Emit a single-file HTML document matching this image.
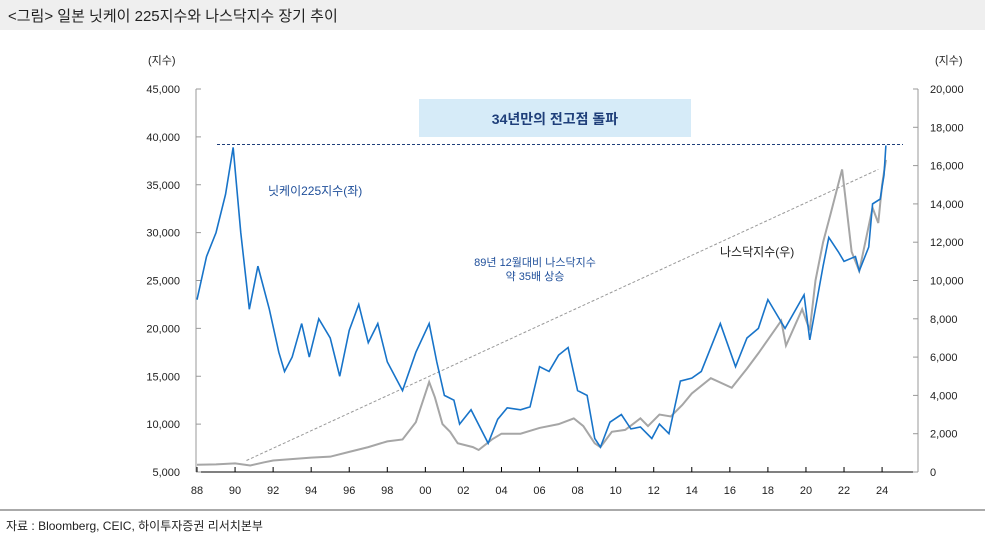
<!DOCTYPE html>
<html><head><meta charset="utf-8"><style>
body{margin:0;width:985px;height:540px;background:#fff;font-family:"Liberation Sans","Noto Sans CJK KR",sans-serif;overflow:hidden}
</style></head><body>
<svg id="c" width="985" height="540" style="position:absolute;left:0;top:0;font-family:'Liberation Sans','Noto Sans CJK KR',sans-serif">
<rect x="0" y="0" width="985" height="30" fill="#efefef"/>
<text x="8" y="21" font-size="15" fill="#222">&lt;그림&gt; 일본 닛케이 225지수와 나스닥지수 장기 추이</text>
<line x1="0" y1="510" x2="985" y2="510" stroke="#555" stroke-width="1"/>
<text x="6" y="530" font-size="12" fill="#222">자료 : Bloomberg, CEIC, 하이투자증권 리서치본부</text>
<text x="148" y="64" font-size="11" fill="#222">(지수)</text>
<text x="935" y="64" font-size="11" fill="#222">(지수)</text>
<rect x="419" y="99" width="272" height="38" fill="#d6ebf8"/>
<text x="555" y="124" font-size="14" font-weight="bold" fill="#1f3f7a" text-anchor="middle">34년만의 전고점 돌파</text>
<text x="268" y="195" font-size="12" fill="#1f4f9a">닛케이225지수(좌)</text>
<text x="535" y="266" font-size="11" fill="#1f4f9a" text-anchor="middle">89년 12월대비 나스닥지수</text>
<text x="535" y="280" font-size="11" fill="#1f4f9a" text-anchor="middle">약 35배 상승</text>
<text x="720" y="256" font-size="12" fill="#222">나스닥지수(우)</text>
<g id="g"></g>
</svg>
<script>
const leftTicks=[5000,10000,15000,20000,25000,30000,35000,40000,45000];
const rightTicks=[0,2000,4000,6000,8000,10000,12000,14000,16000,18000,20000];
const xTickLabels=['88','90','92','94','96','98','00','02','04','06','08','10','12','14','16','18','20','22','24'];
const nikkeiYears=[1988,1988.5,1989,1989.5,1989.9,1990.3,1990.75,1991.2,1991.8,1992.3,1992.6,1993,1993.5,1993.9,1994.4,1995,1995.5,1996,1996.5,1997,1997.5,1998,1998.8,1999.5,2000.2,2000.6,2001,2001.5,2001.8,2002.4,2003.3,2003.8,2004.3,2005,2005.5,2006,2006.5,2007,2007.5,2008,2008.5,2008.9,2009.2,2009.7,2010.3,2010.8,2011.3,2011.9,2012.3,2012.8,2013.4,2014,2014.5,2014.9,2015.5,2016.3,2016.9,2017.5,2018,2018.9,2019.9,2020.2,2020.9,2021.2,2021.7,2022,2022.6,2022.8,2023.3,2023.5,2023.9,2024.1,2024.2];
const nikkeiValues=[23000,27500,30000,34000,38900,30000,22000,26500,22000,17500,15500,17000,20500,17000,21000,19000,15000,19800,22500,18500,20500,16500,13500,17500,20500,16500,13000,12500,10000,11500,8000,10500,11700,11500,11800,16000,15500,17200,18000,13500,13000,8500,7600,10200,11000,9500,9700,8500,10000,9000,14500,14800,15500,17500,20500,16000,19000,20000,23000,20000,23500,18800,26500,29500,28000,27000,27500,26000,28500,33000,33500,36000,39100];
const nasdaqYears=[1988,1989,1990,1990.8,1991.5,1992,1994,1995,1996,1997,1998,1998.8,1999.5,2000.2,2000.5,2000.9,2001.3,2001.7,2002.5,2002.8,2003.5,2004,2005,2006,2007,2007.8,2008.3,2008.9,2009.2,2009.8,2010.5,2011.3,2011.7,2012.3,2012.9,2013.5,2014,2015,2016.1,2016.9,2017.5,2018.7,2018.95,2019.8,2020.2,2020.5,2020.9,2021.3,2021.9,2022.4,2022.8,2023.5,2023.8,2024,2024.2];
const nasdaqValues=[380,400,450,340,500,600,750,800,1050,1300,1600,1700,2600,4700,3900,2500,2100,1500,1300,1150,1700,2000,2000,2300,2500,2800,2400,1500,1300,2100,2200,2800,2400,3000,2900,3500,4100,4900,4400,5400,6200,7900,6600,8500,7400,10000,12000,13500,15800,11500,10500,13800,13000,15000,16300];
const peakLevel=39200;
const trendStart=[1990.6,600],trendEnd=[2023.8,15800];
const NS='http://www.w3.org/2000/svg',g=document.getElementById('g');
const X=yr=>197+(yr-1988)*19.03, YL=v=>472-(v-5000)/40000*383, YR=v=>472-v/20000*383;
function mk(t,a,name){const e=document.createElementNS(NS,t);for(const k in a)e.setAttribute(k,a[k]);


g.appendChild(e);return e;}
mk('line',{x1:196,y1:89,x2:196,y2:472,stroke:'#999'},'left-axis');
mk('line',{x1:918,y1:89,x2:918,y2:472,stroke:'#999'},'right-axis');
mk('line',{x1:196,y1:472,x2:918,y2:472,stroke:'#000'},'x-axis');
leftTicks.forEach(v=>{mk('line',{x1:196,y1:YL(v),x2:201,y2:YL(v),stroke:'#999'},'left-tick');
const t=mk('text',{x:180,y:YL(v)+4,'font-size':11,'text-anchor':'end',fill:'#222'},'left-tick-label');t.textContent=v.toLocaleString('en-US');});
rightTicks.forEach(v=>{mk('line',{x1:913,y1:YR(v),x2:918,y2:YR(v),stroke:'#999'},'right-tick');
const t=mk('text',{x:930,y:YR(v)+4,'font-size':11,fill:'#222'},'right-tick-label');t.textContent=v.toLocaleString('en-US');});
xTickLabels.forEach((l,i)=>{const x=X(1988+2*i);mk('line',{x1:x,y1:467,x2:x,y2:472,stroke:'#000'},'x-tick');
const t=mk('text',{x:x,y:494,'font-size':11,'text-anchor':'middle',fill:'#222'},'x-tick-label');t.textContent=l;});
mk('line',{x1:X(trendStart[0]),y1:YR(trendStart[1]),x2:X(trendEnd[0]),y2:YR(trendEnd[1]),stroke:'#999','stroke-dasharray':'3,2'},'trend-line');
mk('polyline',{points:nasdaqYears.map((y,i)=>X(y)+','+YR(nasdaqValues[i])).join(' '),fill:'none',stroke:'#a6a6a6','stroke-width':2},'nasdaq-line');
mk('polyline',{points:nikkeiYears.map((y,i)=>X(y)+','+YL(nikkeiValues[i])).join(' '),fill:'none',stroke:'#1874c9','stroke-width':1.6},'nikkei-line');
mk('line',{x1:217,y1:YL(peakLevel),x2:903,y2:YL(peakLevel),stroke:'#1f3f7a','stroke-dasharray':'3,2'},'peak-line');
</script>
</body></html>
